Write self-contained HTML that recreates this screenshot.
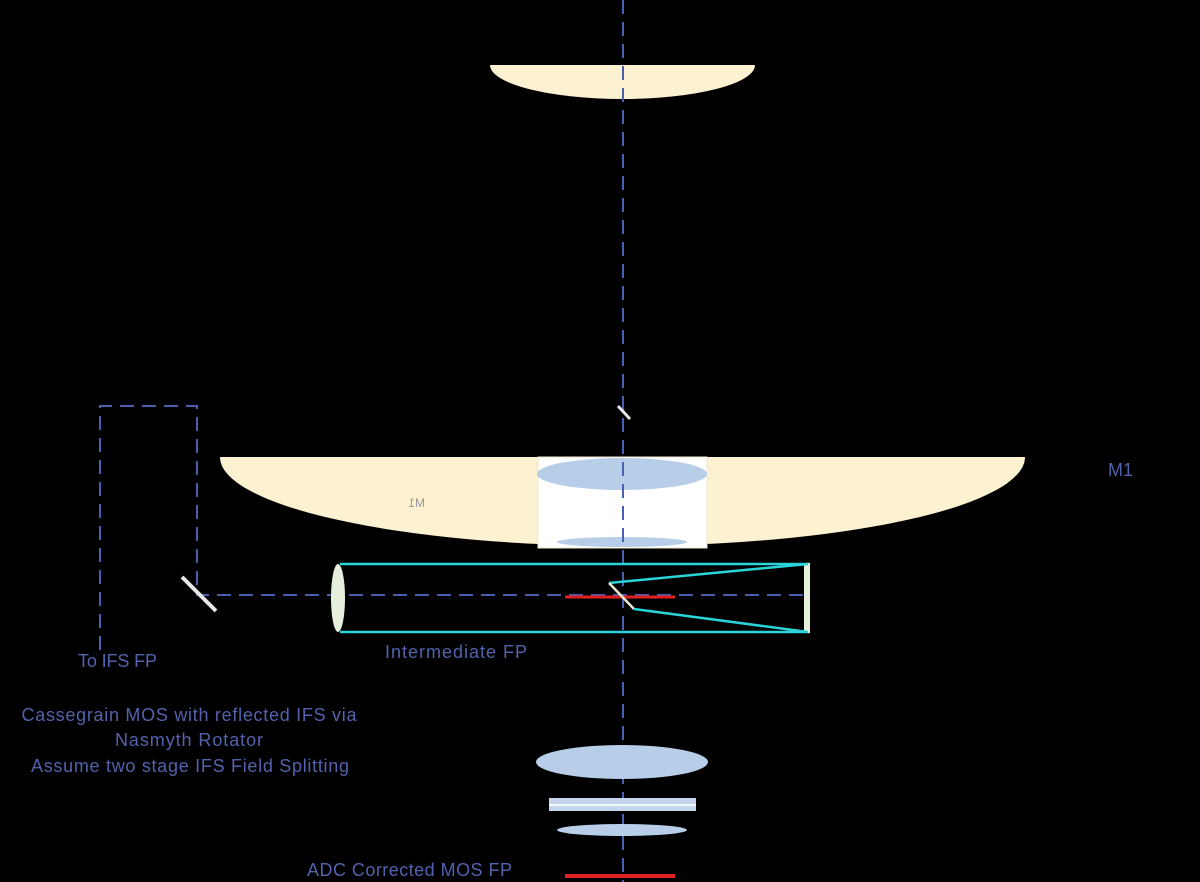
<!DOCTYPE html>
<html><head><meta charset="utf-8"><style>
html,body{margin:0;padding:0;background:#000;}
svg{display:block;}
text{font-family:"Liberation Sans",sans-serif;fill:#5262ad;}
</style></head><body>
<svg width="1200" height="882" viewBox="0 0 1200 882" xmlns="http://www.w3.org/2000/svg">
<rect width="1200" height="882" fill="#000"/>
<path d="M490,65 L755,65 A132.5,34 0 0 1 490,65 Z" fill="#fcf1d0"/>
<path d="M220,457 L1025,457 A402.5,89 0 0 1 220,457 Z" fill="#fcf1d0"/>
<rect x="538" y="457" width="169" height="91" fill="#fff" stroke="#eee8d0" stroke-width="1"/>
<ellipse cx="622" cy="474" rx="85" ry="16" fill="#b7cde8"/>
<ellipse cx="622" cy="542" rx="65" ry="5" fill="#b7cde8"/>
<text x="405" y="507" font-size="12" fill="#999" style="fill:#999" transform="translate(830,0) scale(-1,1)">M1</text>
<line x1="623" y1="0" x2="623" y2="882" stroke="#4a5fb0" stroke-width="2" stroke-dasharray="14,8"/>
<line x1="618" y1="406" x2="630" y2="419" stroke="#e8e8e8" stroke-width="3"/>
<path d="M100,650 L100,406 L197,406 L197,595 L805,595" fill="none" stroke="#4a5fb0" stroke-width="2" stroke-dasharray="14,8"/>
<line x1="182" y1="577" x2="216" y2="611" stroke="#e8e8e8" stroke-width="4"/>
<line x1="340" y1="564" x2="810" y2="564" stroke="#2ad4d8" stroke-width="2.5"/>
<line x1="340" y1="632" x2="810" y2="632" stroke="#2ad4d8" stroke-width="2.5"/>
<ellipse cx="338" cy="598" rx="7" ry="34" fill="#e6eedc"/>
<rect x="804" y="563" width="6" height="70" fill="#e6eedc"/>
<line x1="565" y1="597" x2="675" y2="597" stroke="#e02020" stroke-width="3"/>
<polyline points="808,564 609,583" fill="none" stroke="#2ad4d8" stroke-width="2.5"/>
<line x1="609" y1="583" x2="634" y2="609" stroke="#ece8d0" stroke-width="2.5"/>
<polyline points="634,609 808,632" fill="none" stroke="#2ad4d8" stroke-width="2.5"/>
<ellipse cx="622" cy="762" rx="86" ry="17" fill="#b7cde8"/>
<rect x="549" y="798" width="147" height="13" fill="#c5d6ec"/>
<line x1="549" y1="805" x2="696" y2="805" stroke="#f4f8ff" stroke-width="2"/>
<ellipse cx="622" cy="830" rx="65" ry="6" fill="#b7cde8"/>
<line x1="565" y1="876" x2="675" y2="876" stroke="#e02020" stroke-width="4"/>
<text x="1108" y="476" font-size="18">M1</text>
<text x="78" y="667" font-size="18" textLength="79">To IFS FP</text>
<text x="385" y="658" font-size="18" textLength="142">Intermediate FP</text>
<text x="189" y="721" font-size="18" text-anchor="middle" textLength="335">Cassegrain MOS with reflected IFS via</text>
<text x="189" y="746" font-size="18" text-anchor="middle" textLength="148">Nasmyth Rotator</text>
<text x="190" y="772" font-size="18" text-anchor="middle" textLength="318">Assume two stage IFS Field Splitting</text>
<text x="307" y="876" font-size="18" textLength="205">ADC Corrected MOS FP</text>
</svg>
</body></html>
